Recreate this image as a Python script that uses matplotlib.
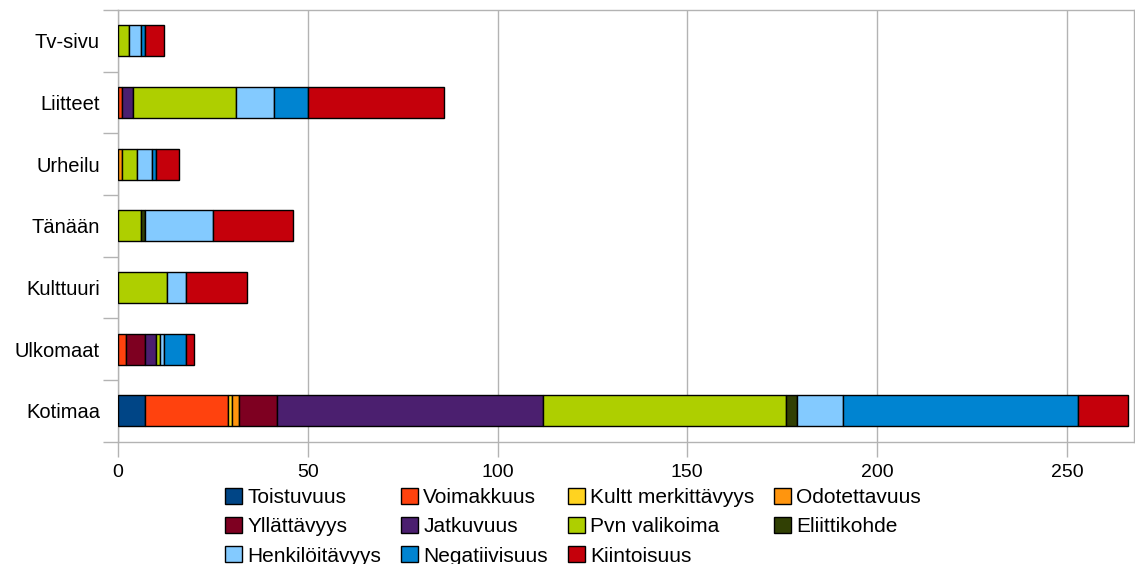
import numpy as np
import matplotlib.pyplot as plt
from matplotlib.patches import Patch

plt.rcParams['font.family'] = ['Liberation Sans', 'DejaVu Sans']

# Kategoriat alhaalta ylös
kategoriat = ['Kotimaa', 'Ulkomaat', 'Kulttuuri', 'Tänään', 'Urheilu', 'Liitteet', 'Tv-sivu']

sarjat = ['Toistuvuus', 'Voimakkuus', 'Kultt merkittävyys', 'Odotettavuus',
          'Yllättävyys', 'Jatkuvuus', 'Pvn valikoima', 'Eliittikohde',
          'Henkilöitävyys', 'Negatiivisuus', 'Kiintoisuus']

# arvot kategorioittain (sama järjestys kuin kategoriat)
toistuvuus     = [7, 0, 0, 0, 0, 0, 0]
voimakkuus     = [22, 2, 0, 0, 0, 1, 0]
kultt          = [1, 0, 0, 0, 0, 0, 0]
odotettavuus   = [2, 0, 0, 0, 1, 0, 0]
yllattavyys    = [10, 5, 0, 0, 0, 0, 0]
jatkuvuus      = [70, 3, 0, 0, 0, 3, 0]
pvn_valikoima  = [64, 1, 13, 6, 4, 27, 3]
eliittikohde   = [3, 0, 0, 1, 0, 0, 0]
henkiloitavyys = [12, 1, 5, 18, 4, 10, 3]
negatiivisuus  = [62, 6, 0, 0, 1, 9, 1]
kiintoisuus    = [13, 2, 16, 21, 6, 36, 5]

arvot = [toistuvuus, voimakkuus, kultt, odotettavuus, yllattavyys, jatkuvuus,
         pvn_valikoima, eliittikohde, henkiloitavyys, negatiivisuus, kiintoisuus]

varit = ['#004586', '#ff420e', '#ffd320', '#ff950e', '#7e0021', '#4b1f6f',
         '#aecf00', '#314004', '#83caff', '#0084d1', '#c5000b']

fig = plt.figure(figsize=(11.35, 5.64), dpi=100)
ax = fig.add_axes([118/1135, 1 - 441.7/564, 1016/1135, 431.7/564])

y = np.arange(len(kategoriat))
vasen = np.zeros(len(kategoriat))
for nimi, data, vari in zip(sarjat, arvot, varit):
    data = np.array(data, dtype=float)
    maski = data > 0
    ax.barh(y[maski], data[maski], left=vasen[maski], height=0.5, color=vari,
            edgecolor='black', linewidth=1.0, zorder=3)
    vasen += data

ax.set_xlim(0, 267.7)
ax.set_ylim(-0.5, len(kategoriat) - 0.5)
ax.set_xticks(np.arange(0, 251, 50))
ax.set_yticks(y)
ax.set_yticklabels(kategoriat)
ax.set_yticks(np.arange(-0.5, len(kategoriat)), minor=True)
ax.tick_params(axis='y', which='major', length=0, pad=13, labelsize=14.5)
ax.tick_params(axis='y', which='minor', length=11, color='#b3b3b3', width=1)
ax.tick_params(axis='x', length=11, color='#b3b3b3', width=1, labelsize=14, pad=5)
ax.grid(axis='x', color='#b3b3b3', linewidth=1, zorder=0)

for s in ['left', 'bottom', 'top', 'right']:
    ax.spines[s].set_color('#b3b3b3')
    ax.spines[s].set_linewidth(1)

# legenda riveittäin neljään sarakkeeseen
jarjestys = [0, 4, 8, 1, 5, 9, 2, 6, 10, 3, 7]
kahvat = [Patch(facecolor=varit[i], edgecolor='black', linewidth=1) for i in jarjestys]
nimet = [sarjat[i] for i in jarjestys]
fig.legend(kahvat, nimet, ncol=4, loc='upper left', bbox_to_anchor=(225/1135, 1 - 488/564),
           frameon=False, fontsize=15, handlelength=0.82, handleheight=0.82,
           handletextpad=0.25, columnspacing=0.95, labelspacing=0.47, borderaxespad=0,
           borderpad=0)

fig.savefig('out.png', dpi=100)
